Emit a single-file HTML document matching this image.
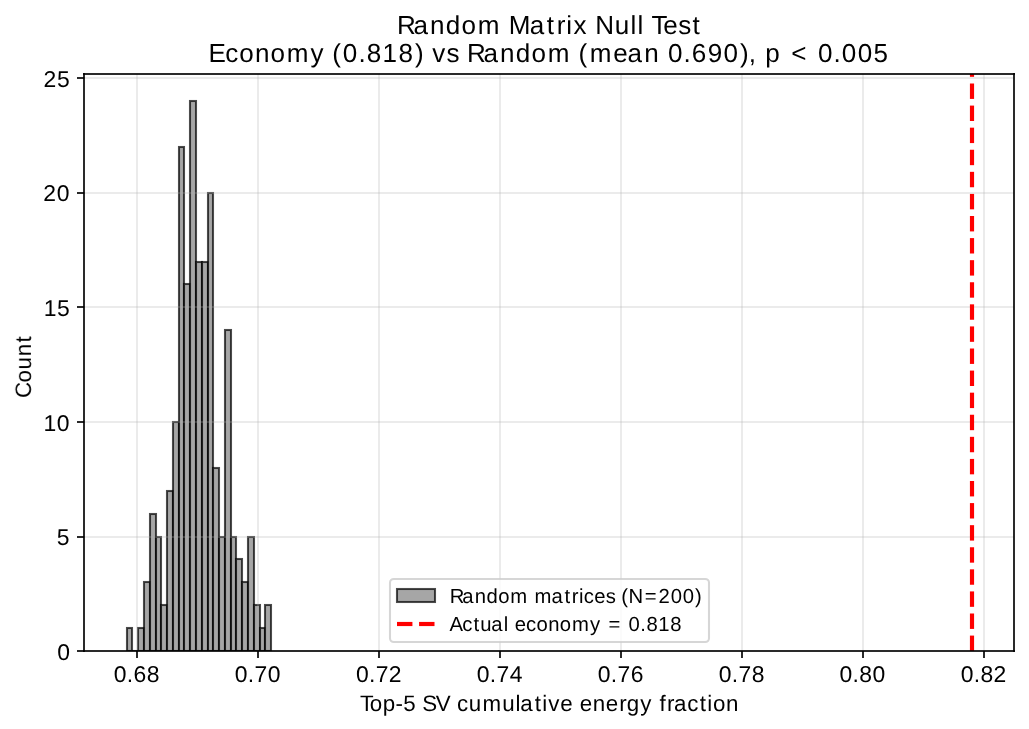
<!DOCTYPE html>
<html lang="en"><head><meta charset="utf-8"><title>Random Matrix Null Test</title>
<style>html,body{margin:0;padding:0;background:#fff;}body{width:1029px;height:729px;overflow:hidden;}svg{display:block;will-change:transform;}text{text-rendering:geometricPrecision;font-family:"Liberation Sans",sans-serif;fill:#000;}</style></head><body>
<svg width="1029" height="729" viewBox="0 0 1029 729">
<rect x="0" y="0" width="1029" height="729" fill="#ffffff"/>
<defs><clipPath id="ax"><rect x="84" y="74" width="930" height="577"/></clipPath></defs>
<g clip-path="url(#ax)" fill="#808080" fill-opacity="0.7" stroke="#000000" stroke-opacity="0.7" stroke-width="2.08" stroke-linejoin="miter">
<rect x="127" y="628" width="5" height="23"/>
<line x1="132" y1="651" x2="138" y2="651" fill="none"/>
<rect x="138" y="628" width="6" height="23"/>
<rect x="144" y="582" width="6" height="69"/>
<rect x="150" y="514" width="6" height="137"/>
<rect x="156" y="537" width="5" height="114"/>
<rect x="161" y="605" width="6" height="46"/>
<rect x="167" y="491" width="6" height="160"/>
<rect x="173" y="422" width="6" height="229"/>
<rect x="179" y="147" width="5" height="504"/>
<rect x="184" y="284" width="6" height="367"/>
<rect x="190" y="101" width="6" height="550"/>
<rect x="196" y="262" width="6" height="389"/>
<rect x="202" y="262" width="6" height="389"/>
<rect x="208" y="193" width="5" height="458"/>
<rect x="213" y="468" width="6" height="183"/>
<rect x="219" y="537" width="6" height="114"/>
<rect x="225" y="330" width="6" height="321"/>
<rect x="231" y="537" width="5" height="114"/>
<rect x="236" y="559" width="6" height="92"/>
<rect x="242" y="582" width="6" height="69"/>
<rect x="248" y="537" width="6" height="114"/>
<rect x="254" y="605" width="6" height="46"/>
<rect x="260" y="628" width="5" height="23"/>
<rect x="265" y="605" width="6" height="46"/>
</g>
<g fill="#b0b0b0" fill-opacity="0.2505">
<rect x="136" y="74" width="2" height="577"/>
<rect x="257" y="74" width="2" height="577"/>
<rect x="378" y="74" width="2" height="577"/>
<rect x="499" y="74" width="2" height="577"/>
<rect x="620" y="74" width="2" height="577"/>
<rect x="741" y="74" width="2" height="577"/>
<rect x="862" y="74" width="2" height="577"/>
<rect x="983" y="74" width="2" height="577"/>
<rect x="84" y="536" width="930" height="2"/>
<rect x="84" y="421" width="930" height="2"/>
<rect x="84" y="306" width="930" height="2"/>
<rect x="84" y="192" width="930" height="2"/>
<rect x="84" y="77" width="930" height="2"/>
</g>
<g fill="#000000" fill-opacity="0.835">
<rect x="136" y="651" width="2" height="7"/>
<rect x="257" y="651" width="2" height="7"/>
<rect x="378" y="651" width="2" height="7"/>
<rect x="499" y="651" width="2" height="7"/>
<rect x="620" y="651" width="2" height="7"/>
<rect x="741" y="651" width="2" height="7"/>
<rect x="862" y="651" width="2" height="7"/>
<rect x="983" y="651" width="2" height="7"/>
<rect x="77" y="650" width="7.2" height="2"/>
<rect x="77" y="536" width="7.2" height="2"/>
<rect x="77" y="421" width="7.2" height="2"/>
<rect x="77" y="306" width="7.2" height="2"/>
<rect x="77" y="192" width="7.2" height="2"/>
<rect x="77" y="77" width="7.2" height="2"/>
</g>
<g shape-rendering="crispEdges">
<rect x="970" y="635" width="4" height="1" fill="#ff0000" fill-opacity="0.417"/>
<rect x="969" y="635" width="1" height="1" fill="#ff0000" fill-opacity="0.035"/>
<rect x="974" y="635" width="1" height="1" fill="#ff0000" fill-opacity="0.035"/>
<rect x="970" y="636" width="4" height="15" fill="#ff0000" fill-opacity="1.000"/>
<rect x="969" y="636" width="1" height="15" fill="#ff0000" fill-opacity="0.083"/>
<rect x="974" y="636" width="1" height="15" fill="#ff0000" fill-opacity="0.083"/>
<rect x="970" y="613" width="4" height="1" fill="#ff0000" fill-opacity="0.500"/>
<rect x="969" y="613" width="1" height="1" fill="#ff0000" fill-opacity="0.042"/>
<rect x="974" y="613" width="1" height="1" fill="#ff0000" fill-opacity="0.042"/>
<rect x="970" y="614" width="4" height="14" fill="#ff0000" fill-opacity="1.000"/>
<rect x="969" y="614" width="1" height="14" fill="#ff0000" fill-opacity="0.083"/>
<rect x="974" y="614" width="1" height="14" fill="#ff0000" fill-opacity="0.083"/>
<rect x="970" y="628" width="4" height="1" fill="#ff0000" fill-opacity="0.917"/>
<rect x="969" y="628" width="1" height="1" fill="#ff0000" fill-opacity="0.076"/>
<rect x="974" y="628" width="1" height="1" fill="#ff0000" fill-opacity="0.076"/>
<rect x="970" y="591" width="4" height="1" fill="#ff0000" fill-opacity="0.583"/>
<rect x="969" y="591" width="1" height="1" fill="#ff0000" fill-opacity="0.048"/>
<rect x="974" y="591" width="1" height="1" fill="#ff0000" fill-opacity="0.048"/>
<rect x="970" y="592" width="4" height="14" fill="#ff0000" fill-opacity="1.000"/>
<rect x="969" y="592" width="1" height="14" fill="#ff0000" fill-opacity="0.083"/>
<rect x="974" y="592" width="1" height="14" fill="#ff0000" fill-opacity="0.083"/>
<rect x="970" y="606" width="4" height="1" fill="#ff0000" fill-opacity="0.833"/>
<rect x="969" y="606" width="1" height="1" fill="#ff0000" fill-opacity="0.069"/>
<rect x="974" y="606" width="1" height="1" fill="#ff0000" fill-opacity="0.069"/>
<rect x="970" y="569" width="4" height="1" fill="#ff0000" fill-opacity="0.667"/>
<rect x="969" y="569" width="1" height="1" fill="#ff0000" fill-opacity="0.055"/>
<rect x="974" y="569" width="1" height="1" fill="#ff0000" fill-opacity="0.055"/>
<rect x="970" y="570" width="4" height="14" fill="#ff0000" fill-opacity="1.000"/>
<rect x="969" y="570" width="1" height="14" fill="#ff0000" fill-opacity="0.083"/>
<rect x="974" y="570" width="1" height="14" fill="#ff0000" fill-opacity="0.083"/>
<rect x="970" y="584" width="4" height="1" fill="#ff0000" fill-opacity="0.750"/>
<rect x="969" y="584" width="1" height="1" fill="#ff0000" fill-opacity="0.062"/>
<rect x="974" y="584" width="1" height="1" fill="#ff0000" fill-opacity="0.062"/>
<rect x="970" y="547" width="4" height="1" fill="#ff0000" fill-opacity="0.750"/>
<rect x="969" y="547" width="1" height="1" fill="#ff0000" fill-opacity="0.062"/>
<rect x="974" y="547" width="1" height="1" fill="#ff0000" fill-opacity="0.062"/>
<rect x="970" y="548" width="4" height="14" fill="#ff0000" fill-opacity="1.000"/>
<rect x="969" y="548" width="1" height="14" fill="#ff0000" fill-opacity="0.083"/>
<rect x="974" y="548" width="1" height="14" fill="#ff0000" fill-opacity="0.083"/>
<rect x="970" y="562" width="4" height="1" fill="#ff0000" fill-opacity="0.667"/>
<rect x="969" y="562" width="1" height="1" fill="#ff0000" fill-opacity="0.055"/>
<rect x="974" y="562" width="1" height="1" fill="#ff0000" fill-opacity="0.055"/>
<rect x="970" y="525" width="4" height="1" fill="#ff0000" fill-opacity="0.833"/>
<rect x="969" y="525" width="1" height="1" fill="#ff0000" fill-opacity="0.069"/>
<rect x="974" y="525" width="1" height="1" fill="#ff0000" fill-opacity="0.069"/>
<rect x="970" y="526" width="4" height="14" fill="#ff0000" fill-opacity="1.000"/>
<rect x="969" y="526" width="1" height="14" fill="#ff0000" fill-opacity="0.083"/>
<rect x="974" y="526" width="1" height="14" fill="#ff0000" fill-opacity="0.083"/>
<rect x="970" y="540" width="4" height="1" fill="#ff0000" fill-opacity="0.583"/>
<rect x="969" y="540" width="1" height="1" fill="#ff0000" fill-opacity="0.048"/>
<rect x="974" y="540" width="1" height="1" fill="#ff0000" fill-opacity="0.048"/>
<rect x="970" y="503" width="4" height="1" fill="#ff0000" fill-opacity="0.917"/>
<rect x="969" y="503" width="1" height="1" fill="#ff0000" fill-opacity="0.076"/>
<rect x="974" y="503" width="1" height="1" fill="#ff0000" fill-opacity="0.076"/>
<rect x="970" y="504" width="4" height="14" fill="#ff0000" fill-opacity="1.000"/>
<rect x="969" y="504" width="1" height="14" fill="#ff0000" fill-opacity="0.083"/>
<rect x="974" y="504" width="1" height="14" fill="#ff0000" fill-opacity="0.083"/>
<rect x="970" y="518" width="4" height="1" fill="#ff0000" fill-opacity="0.500"/>
<rect x="969" y="518" width="1" height="1" fill="#ff0000" fill-opacity="0.042"/>
<rect x="974" y="518" width="1" height="1" fill="#ff0000" fill-opacity="0.042"/>
<rect x="970" y="481" width="4" height="1" fill="#ff0000" fill-opacity="1.000"/>
<rect x="969" y="481" width="1" height="1" fill="#ff0000" fill-opacity="0.083"/>
<rect x="974" y="481" width="1" height="1" fill="#ff0000" fill-opacity="0.083"/>
<rect x="970" y="482" width="4" height="14" fill="#ff0000" fill-opacity="1.000"/>
<rect x="969" y="482" width="1" height="14" fill="#ff0000" fill-opacity="0.083"/>
<rect x="974" y="482" width="1" height="14" fill="#ff0000" fill-opacity="0.083"/>
<rect x="970" y="496" width="4" height="1" fill="#ff0000" fill-opacity="0.417"/>
<rect x="969" y="496" width="1" height="1" fill="#ff0000" fill-opacity="0.035"/>
<rect x="974" y="496" width="1" height="1" fill="#ff0000" fill-opacity="0.035"/>
<rect x="970" y="458" width="4" height="1" fill="#ff0000" fill-opacity="0.083"/>
<rect x="969" y="458" width="1" height="1" fill="#ff0000" fill-opacity="0.007"/>
<rect x="974" y="458" width="1" height="1" fill="#ff0000" fill-opacity="0.007"/>
<rect x="970" y="459" width="4" height="15" fill="#ff0000" fill-opacity="1.000"/>
<rect x="969" y="459" width="1" height="15" fill="#ff0000" fill-opacity="0.083"/>
<rect x="974" y="459" width="1" height="15" fill="#ff0000" fill-opacity="0.083"/>
<rect x="970" y="474" width="4" height="1" fill="#ff0000" fill-opacity="0.334"/>
<rect x="969" y="474" width="1" height="1" fill="#ff0000" fill-opacity="0.028"/>
<rect x="974" y="474" width="1" height="1" fill="#ff0000" fill-opacity="0.028"/>
<rect x="970" y="436" width="4" height="1" fill="#ff0000" fill-opacity="0.166"/>
<rect x="969" y="436" width="1" height="1" fill="#ff0000" fill-opacity="0.014"/>
<rect x="974" y="436" width="1" height="1" fill="#ff0000" fill-opacity="0.014"/>
<rect x="970" y="437" width="4" height="15" fill="#ff0000" fill-opacity="1.000"/>
<rect x="969" y="437" width="1" height="15" fill="#ff0000" fill-opacity="0.083"/>
<rect x="974" y="437" width="1" height="15" fill="#ff0000" fill-opacity="0.083"/>
<rect x="970" y="452" width="4" height="1" fill="#ff0000" fill-opacity="0.250"/>
<rect x="969" y="452" width="1" height="1" fill="#ff0000" fill-opacity="0.021"/>
<rect x="974" y="452" width="1" height="1" fill="#ff0000" fill-opacity="0.021"/>
<rect x="970" y="414" width="4" height="1" fill="#ff0000" fill-opacity="0.250"/>
<rect x="969" y="414" width="1" height="1" fill="#ff0000" fill-opacity="0.021"/>
<rect x="974" y="414" width="1" height="1" fill="#ff0000" fill-opacity="0.021"/>
<rect x="970" y="415" width="4" height="15" fill="#ff0000" fill-opacity="1.000"/>
<rect x="969" y="415" width="1" height="15" fill="#ff0000" fill-opacity="0.083"/>
<rect x="974" y="415" width="1" height="15" fill="#ff0000" fill-opacity="0.083"/>
<rect x="970" y="430" width="4" height="1" fill="#ff0000" fill-opacity="0.167"/>
<rect x="969" y="430" width="1" height="1" fill="#ff0000" fill-opacity="0.014"/>
<rect x="974" y="430" width="1" height="1" fill="#ff0000" fill-opacity="0.014"/>
<rect x="970" y="392" width="4" height="1" fill="#ff0000" fill-opacity="0.333"/>
<rect x="969" y="392" width="1" height="1" fill="#ff0000" fill-opacity="0.028"/>
<rect x="974" y="392" width="1" height="1" fill="#ff0000" fill-opacity="0.028"/>
<rect x="970" y="393" width="4" height="15" fill="#ff0000" fill-opacity="1.000"/>
<rect x="969" y="393" width="1" height="15" fill="#ff0000" fill-opacity="0.083"/>
<rect x="974" y="393" width="1" height="15" fill="#ff0000" fill-opacity="0.083"/>
<rect x="970" y="408" width="4" height="1" fill="#ff0000" fill-opacity="0.084"/>
<rect x="969" y="408" width="1" height="1" fill="#ff0000" fill-opacity="0.007"/>
<rect x="974" y="408" width="1" height="1" fill="#ff0000" fill-opacity="0.007"/>
<rect x="970" y="370" width="4" height="1" fill="#ff0000" fill-opacity="0.416"/>
<rect x="969" y="370" width="1" height="1" fill="#ff0000" fill-opacity="0.035"/>
<rect x="974" y="370" width="1" height="1" fill="#ff0000" fill-opacity="0.035"/>
<rect x="970" y="371" width="4" height="15" fill="#ff0000" fill-opacity="1.000"/>
<rect x="969" y="371" width="1" height="15" fill="#ff0000" fill-opacity="0.083"/>
<rect x="974" y="371" width="1" height="15" fill="#ff0000" fill-opacity="0.083"/>
<rect x="970" y="386" width="4" height="1" fill="#ff0000" fill-opacity="0.000"/>
<rect x="969" y="386" width="1" height="1" fill="#ff0000" fill-opacity="0.000"/>
<rect x="974" y="386" width="1" height="1" fill="#ff0000" fill-opacity="0.000"/>
<rect x="970" y="348" width="4" height="1" fill="#ff0000" fill-opacity="0.500"/>
<rect x="969" y="348" width="1" height="1" fill="#ff0000" fill-opacity="0.041"/>
<rect x="974" y="348" width="1" height="1" fill="#ff0000" fill-opacity="0.041"/>
<rect x="970" y="349" width="4" height="14" fill="#ff0000" fill-opacity="1.000"/>
<rect x="969" y="349" width="1" height="14" fill="#ff0000" fill-opacity="0.083"/>
<rect x="974" y="349" width="1" height="14" fill="#ff0000" fill-opacity="0.083"/>
<rect x="970" y="363" width="4" height="1" fill="#ff0000" fill-opacity="0.917"/>
<rect x="969" y="363" width="1" height="1" fill="#ff0000" fill-opacity="0.076"/>
<rect x="974" y="363" width="1" height="1" fill="#ff0000" fill-opacity="0.076"/>
<rect x="970" y="326" width="4" height="1" fill="#ff0000" fill-opacity="0.583"/>
<rect x="969" y="326" width="1" height="1" fill="#ff0000" fill-opacity="0.048"/>
<rect x="974" y="326" width="1" height="1" fill="#ff0000" fill-opacity="0.048"/>
<rect x="970" y="327" width="4" height="14" fill="#ff0000" fill-opacity="1.000"/>
<rect x="969" y="327" width="1" height="14" fill="#ff0000" fill-opacity="0.083"/>
<rect x="974" y="327" width="1" height="14" fill="#ff0000" fill-opacity="0.083"/>
<rect x="970" y="341" width="4" height="1" fill="#ff0000" fill-opacity="0.834"/>
<rect x="969" y="341" width="1" height="1" fill="#ff0000" fill-opacity="0.069"/>
<rect x="974" y="341" width="1" height="1" fill="#ff0000" fill-opacity="0.069"/>
<rect x="970" y="304" width="4" height="1" fill="#ff0000" fill-opacity="0.666"/>
<rect x="969" y="304" width="1" height="1" fill="#ff0000" fill-opacity="0.055"/>
<rect x="974" y="304" width="1" height="1" fill="#ff0000" fill-opacity="0.055"/>
<rect x="970" y="305" width="4" height="14" fill="#ff0000" fill-opacity="1.000"/>
<rect x="969" y="305" width="1" height="14" fill="#ff0000" fill-opacity="0.083"/>
<rect x="974" y="305" width="1" height="14" fill="#ff0000" fill-opacity="0.083"/>
<rect x="970" y="319" width="4" height="1" fill="#ff0000" fill-opacity="0.750"/>
<rect x="969" y="319" width="1" height="1" fill="#ff0000" fill-opacity="0.062"/>
<rect x="974" y="319" width="1" height="1" fill="#ff0000" fill-opacity="0.062"/>
<rect x="970" y="282" width="4" height="1" fill="#ff0000" fill-opacity="0.750"/>
<rect x="969" y="282" width="1" height="1" fill="#ff0000" fill-opacity="0.062"/>
<rect x="974" y="282" width="1" height="1" fill="#ff0000" fill-opacity="0.062"/>
<rect x="970" y="283" width="4" height="14" fill="#ff0000" fill-opacity="1.000"/>
<rect x="969" y="283" width="1" height="14" fill="#ff0000" fill-opacity="0.083"/>
<rect x="974" y="283" width="1" height="14" fill="#ff0000" fill-opacity="0.083"/>
<rect x="970" y="297" width="4" height="1" fill="#ff0000" fill-opacity="0.667"/>
<rect x="969" y="297" width="1" height="1" fill="#ff0000" fill-opacity="0.055"/>
<rect x="974" y="297" width="1" height="1" fill="#ff0000" fill-opacity="0.055"/>
<rect x="970" y="260" width="4" height="1" fill="#ff0000" fill-opacity="0.833"/>
<rect x="969" y="260" width="1" height="1" fill="#ff0000" fill-opacity="0.069"/>
<rect x="974" y="260" width="1" height="1" fill="#ff0000" fill-opacity="0.069"/>
<rect x="970" y="261" width="4" height="14" fill="#ff0000" fill-opacity="1.000"/>
<rect x="969" y="261" width="1" height="14" fill="#ff0000" fill-opacity="0.083"/>
<rect x="974" y="261" width="1" height="14" fill="#ff0000" fill-opacity="0.083"/>
<rect x="970" y="275" width="4" height="1" fill="#ff0000" fill-opacity="0.584"/>
<rect x="969" y="275" width="1" height="1" fill="#ff0000" fill-opacity="0.048"/>
<rect x="974" y="275" width="1" height="1" fill="#ff0000" fill-opacity="0.048"/>
<rect x="970" y="238" width="4" height="1" fill="#ff0000" fill-opacity="0.916"/>
<rect x="969" y="238" width="1" height="1" fill="#ff0000" fill-opacity="0.076"/>
<rect x="974" y="238" width="1" height="1" fill="#ff0000" fill-opacity="0.076"/>
<rect x="970" y="239" width="4" height="14" fill="#ff0000" fill-opacity="1.000"/>
<rect x="969" y="239" width="1" height="14" fill="#ff0000" fill-opacity="0.083"/>
<rect x="974" y="239" width="1" height="14" fill="#ff0000" fill-opacity="0.083"/>
<rect x="970" y="253" width="4" height="1" fill="#ff0000" fill-opacity="0.501"/>
<rect x="969" y="253" width="1" height="1" fill="#ff0000" fill-opacity="0.042"/>
<rect x="974" y="253" width="1" height="1" fill="#ff0000" fill-opacity="0.042"/>
<rect x="970" y="216" width="4" height="1" fill="#ff0000" fill-opacity="0.999"/>
<rect x="969" y="216" width="1" height="1" fill="#ff0000" fill-opacity="0.083"/>
<rect x="974" y="216" width="1" height="1" fill="#ff0000" fill-opacity="0.083"/>
<rect x="970" y="217" width="4" height="14" fill="#ff0000" fill-opacity="1.000"/>
<rect x="969" y="217" width="1" height="14" fill="#ff0000" fill-opacity="0.083"/>
<rect x="974" y="217" width="1" height="14" fill="#ff0000" fill-opacity="0.083"/>
<rect x="970" y="231" width="4" height="1" fill="#ff0000" fill-opacity="0.417"/>
<rect x="969" y="231" width="1" height="1" fill="#ff0000" fill-opacity="0.035"/>
<rect x="974" y="231" width="1" height="1" fill="#ff0000" fill-opacity="0.035"/>
<rect x="970" y="193" width="4" height="1" fill="#ff0000" fill-opacity="0.083"/>
<rect x="969" y="193" width="1" height="1" fill="#ff0000" fill-opacity="0.007"/>
<rect x="974" y="193" width="1" height="1" fill="#ff0000" fill-opacity="0.007"/>
<rect x="970" y="194" width="4" height="15" fill="#ff0000" fill-opacity="1.000"/>
<rect x="969" y="194" width="1" height="15" fill="#ff0000" fill-opacity="0.083"/>
<rect x="974" y="194" width="1" height="15" fill="#ff0000" fill-opacity="0.083"/>
<rect x="970" y="209" width="4" height="1" fill="#ff0000" fill-opacity="0.334"/>
<rect x="969" y="209" width="1" height="1" fill="#ff0000" fill-opacity="0.028"/>
<rect x="974" y="209" width="1" height="1" fill="#ff0000" fill-opacity="0.028"/>
<rect x="970" y="171" width="4" height="1" fill="#ff0000" fill-opacity="0.166"/>
<rect x="969" y="171" width="1" height="1" fill="#ff0000" fill-opacity="0.014"/>
<rect x="974" y="171" width="1" height="1" fill="#ff0000" fill-opacity="0.014"/>
<rect x="970" y="172" width="4" height="15" fill="#ff0000" fill-opacity="1.000"/>
<rect x="969" y="172" width="1" height="15" fill="#ff0000" fill-opacity="0.083"/>
<rect x="974" y="172" width="1" height="15" fill="#ff0000" fill-opacity="0.083"/>
<rect x="970" y="187" width="4" height="1" fill="#ff0000" fill-opacity="0.251"/>
<rect x="969" y="187" width="1" height="1" fill="#ff0000" fill-opacity="0.021"/>
<rect x="974" y="187" width="1" height="1" fill="#ff0000" fill-opacity="0.021"/>
<rect x="970" y="149" width="4" height="1" fill="#ff0000" fill-opacity="0.249"/>
<rect x="969" y="149" width="1" height="1" fill="#ff0000" fill-opacity="0.021"/>
<rect x="974" y="149" width="1" height="1" fill="#ff0000" fill-opacity="0.021"/>
<rect x="970" y="150" width="4" height="15" fill="#ff0000" fill-opacity="1.000"/>
<rect x="969" y="150" width="1" height="15" fill="#ff0000" fill-opacity="0.083"/>
<rect x="974" y="150" width="1" height="15" fill="#ff0000" fill-opacity="0.083"/>
<rect x="970" y="165" width="4" height="1" fill="#ff0000" fill-opacity="0.167"/>
<rect x="969" y="165" width="1" height="1" fill="#ff0000" fill-opacity="0.014"/>
<rect x="974" y="165" width="1" height="1" fill="#ff0000" fill-opacity="0.014"/>
<rect x="970" y="127" width="4" height="1" fill="#ff0000" fill-opacity="0.333"/>
<rect x="969" y="127" width="1" height="1" fill="#ff0000" fill-opacity="0.028"/>
<rect x="974" y="127" width="1" height="1" fill="#ff0000" fill-opacity="0.028"/>
<rect x="970" y="128" width="4" height="15" fill="#ff0000" fill-opacity="1.000"/>
<rect x="969" y="128" width="1" height="15" fill="#ff0000" fill-opacity="0.083"/>
<rect x="974" y="128" width="1" height="15" fill="#ff0000" fill-opacity="0.083"/>
<rect x="970" y="143" width="4" height="1" fill="#ff0000" fill-opacity="0.084"/>
<rect x="969" y="143" width="1" height="1" fill="#ff0000" fill-opacity="0.007"/>
<rect x="974" y="143" width="1" height="1" fill="#ff0000" fill-opacity="0.007"/>
<rect x="970" y="105" width="4" height="1" fill="#ff0000" fill-opacity="0.416"/>
<rect x="969" y="105" width="1" height="1" fill="#ff0000" fill-opacity="0.035"/>
<rect x="974" y="105" width="1" height="1" fill="#ff0000" fill-opacity="0.035"/>
<rect x="970" y="106" width="4" height="15" fill="#ff0000" fill-opacity="1.000"/>
<rect x="969" y="106" width="1" height="15" fill="#ff0000" fill-opacity="0.083"/>
<rect x="974" y="106" width="1" height="15" fill="#ff0000" fill-opacity="0.083"/>
<rect x="970" y="121" width="4" height="1" fill="#ff0000" fill-opacity="0.001"/>
<rect x="969" y="121" width="1" height="1" fill="#ff0000" fill-opacity="0.000"/>
<rect x="974" y="121" width="1" height="1" fill="#ff0000" fill-opacity="0.000"/>
<rect x="970" y="83" width="4" height="1" fill="#ff0000" fill-opacity="0.499"/>
<rect x="969" y="83" width="1" height="1" fill="#ff0000" fill-opacity="0.041"/>
<rect x="974" y="83" width="1" height="1" fill="#ff0000" fill-opacity="0.041"/>
<rect x="970" y="84" width="4" height="14" fill="#ff0000" fill-opacity="1.000"/>
<rect x="969" y="84" width="1" height="14" fill="#ff0000" fill-opacity="0.083"/>
<rect x="974" y="84" width="1" height="14" fill="#ff0000" fill-opacity="0.083"/>
<rect x="970" y="98" width="4" height="1" fill="#ff0000" fill-opacity="0.918"/>
<rect x="969" y="98" width="1" height="1" fill="#ff0000" fill-opacity="0.076"/>
<rect x="974" y="98" width="1" height="1" fill="#ff0000" fill-opacity="0.076"/>
<rect x="970" y="74" width="4" height="2" fill="#ff0000" fill-opacity="1.000"/>
<rect x="969" y="74" width="1" height="2" fill="#ff0000" fill-opacity="0.083"/>
<rect x="974" y="74" width="1" height="2" fill="#ff0000" fill-opacity="0.083"/>
<rect x="970" y="76" width="4" height="1" fill="#ff0000" fill-opacity="0.834"/>
<rect x="969" y="76" width="1" height="1" fill="#ff0000" fill-opacity="0.069"/>
<rect x="974" y="76" width="1" height="1" fill="#ff0000" fill-opacity="0.069"/>
</g>
<g fill="#000000" fill-opacity="0.835">
<rect x="83" y="73" width="2" height="579"/>
<rect x="1013" y="73" width="2" height="579"/>
<rect x="83" y="73" width="932" height="2"/>
<rect x="83" y="650" width="932" height="2"/>
</g>
<rect x="390" y="579" width="319" height="63" rx="3.75" ry="3.75" fill="#ffffff" fill-opacity="0.8" stroke="#cccccc" stroke-opacity="0.8" stroke-width="2.08"/>
<rect x="397" y="589" width="38" height="13" fill="#808080" fill-opacity="0.7" stroke="#000000" stroke-opacity="0.7" stroke-width="2.08"/>
<rect x="397.0" y="622" width="15.42" height="4" fill="#ff0000"/>
<rect x="397.0" y="621" width="15.42" height="1" fill="#ff0000" fill-opacity="0.083"/>
<rect x="397.0" y="626" width="15.42" height="1" fill="#ff0000" fill-opacity="0.083"/>
<rect x="419.08" y="622" width="15.42" height="4" fill="#ff0000"/>
<rect x="419.08" y="621" width="15.42" height="1" fill="#ff0000" fill-opacity="0.083"/>
<rect x="419.08" y="626" width="15.42" height="1" fill="#ff0000" fill-opacity="0.083"/>
<g opacity="0.999">
<text x="396.93 413.55 430.12 445.77 461.51 477.79 501.10 508.64 529.74 546.80 556.68 566.26 573.44 587.76 595.29 614.68 630.48 637.42 644.15 651.42 663.26 678.32 692.38" y="33.80" font-size="26.05">Random Matrix Null Test</text>
<text x="208.48 225.21 239.30 254.92 270.44 286.72 310.55 324.83 332.30 342.87 358.42 366.73 382.50 398.54 414.94 423.85 432.33 446.41 459.62 466.89 483.51 500.08 515.73 531.47 547.75 571.07 578.54 589.80 613.26 627.62 644.20 659.66 667.96 683.50 691.81 707.64 723.62 740.02 748.68 756.88 765.32 780.70 791.15 809.59 817.89 833.43 841.74 857.64 873.45" y="61.80" font-size="26.05">Economy (0.818) vs Random (mean 0.690), p &lt; 0.005</text>
<text x="57.17" y="660.40" font-size="22.93">0</text>
<text x="56.71" y="545.40" font-size="22.93">5</text>
<text x="43.38 56.76" y="430.90" font-size="22.93">10</text>
<text x="43.63 56.93" y="316.40" font-size="22.93">15</text>
<text x="43.25 56.77" y="201.40" font-size="22.93">20</text>
<text x="43.60 57.05" y="87.40" font-size="22.93">25</text>
<text x="113.67 126.80 133.55 146.80" y="682.10" font-size="22.93">0.68</text>
<text x="234.67 247.80 254.51 267.80" y="682.10" font-size="22.93">0.70</text>
<text x="355.92 369.05 375.76 388.78" y="682.10" font-size="22.93">0.72</text>
<text x="476.67 489.80 496.51 509.81" y="682.10" font-size="22.93">0.74</text>
<text x="597.67 610.80 617.51 630.80" y="682.10" font-size="22.93">0.76</text>
<text x="718.67 731.80 738.51 751.80" y="682.10" font-size="22.93">0.78</text>
<text x="839.42 852.55 859.30 872.55" y="682.10" font-size="22.93">0.80</text>
<text x="960.67 973.80 980.55 993.53" y="682.10" font-size="22.93">0.82</text>
<text x="359.91 369.72 382.82 395.56 403.37 416.50 422.19 435.81 450.60 456.90 468.81 482.57 502.31 515.58 520.33 534.65 542.31 548.26 560.25 573.03 579.69 592.70 605.71 619.24 626.77 640.28 652.25 659.49 666.95 673.94 687.22 699.71 707.37 712.91 725.92" y="710.60" font-size="22.33">Top-5 SV cumulative energy fraction</text>
<text transform="translate(30.90 395.00) rotate(-90)" x="-3.13 12.50 25.42 38.71 52.41" y="0" font-size="22.33">Count</text>
<text x="449.74 462.27 474.71 486.46 498.25 510.36 528.05 534.59 551.50 564.41 571.78 579.03 583.73 594.35 605.67 615.65 621.21 628.45 644.73 658.57 670.75 682.68 695.08" y="602.80" font-size="20.27">Random matrices (N=200)</text>
<text x="449.45 462.16 473.42 480.23 491.23 503.69 508.71 514.67 525.90 536.45 548.17 559.81 571.91 589.92 600.70 608.44 622.37 628.49 640.25 646.38 658.20 670.24" y="630.80" font-size="20.27">Actual economy = 0.818</text>
</g>
</svg></body></html>
